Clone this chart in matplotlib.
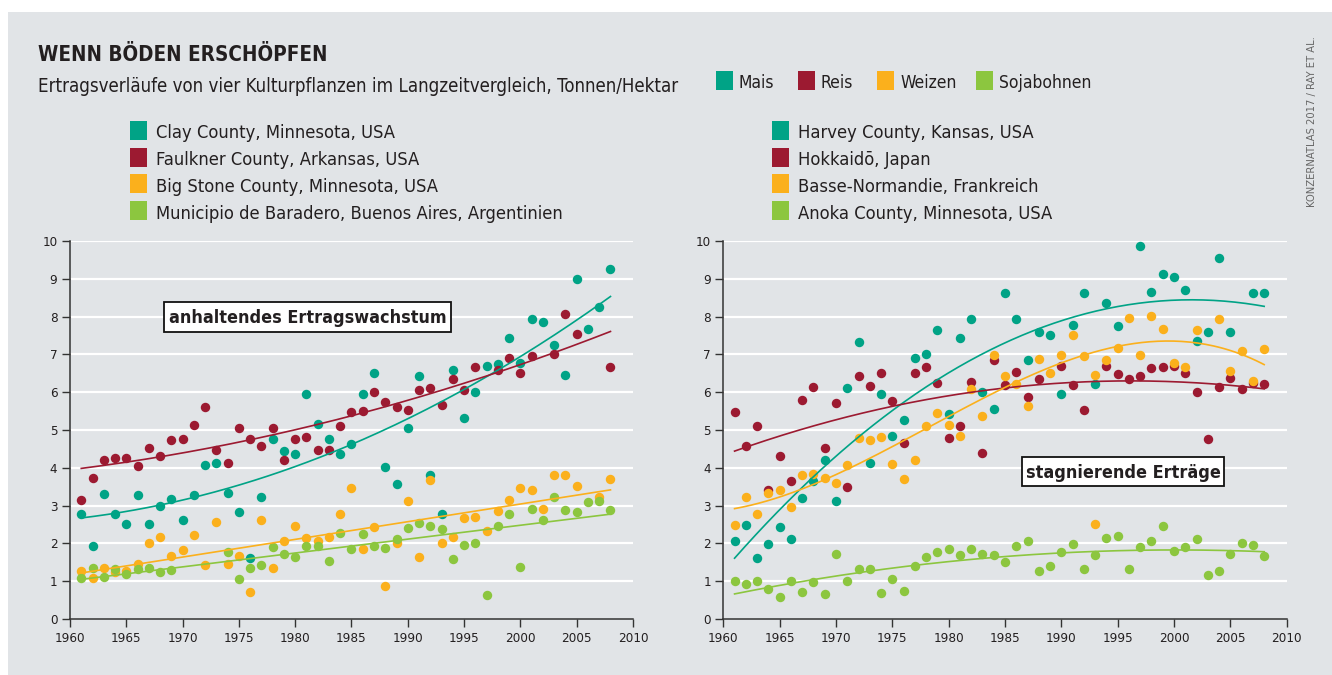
import numpy as np
import matplotlib.pyplot as plt
from matplotlib import font_manager as fm
from matplotlib.patches import Rectangle

# schmale Schrift, falls vorhanden
namen = {f.name for f in fm.fontManager.ttflist}
schmal = [f for f in fm.fontManager.ttflist
          if f.name == 'DejaVu Sans' and 'ondensed' in f.fname]
if 'Liberation Sans Narrow' in namen:
    plt.rcParams['font.family'] = ['Liberation Sans Narrow', 'DejaVu Sans']
    SK = 1.0
elif schmal:
    plt.rcParams['font.family'] = ['DejaVu Sans']
    plt.rcParams['font.stretch'] = 'condensed'
    SK = 0.92
else:
    plt.rcParams['font.family'] = ['Roboto', 'DejaVu Sans']
    SK = 0.86

W, H = 1332, 675
nan = np.nan

years = np.arange(1961, 2009)

# linke Grafik: anhaltendes Ertragswachstum
l_mais = [2.77, 1.94, 3.31, 2.77, 2.52, 3.27, 2.52, 2.99, 3.18, 2.61,
          3.27, 4.07, 4.12, 3.33, 2.83, 1.62, 3.23, 4.75, 4.44, 4.37,
          5.95, 5.17, 4.75, 4.37, 4.62, 5.94, 6.51, 4.03, 3.57, 5.06,
          6.43, 3.81, 2.77, 6.58, 5.33, 6.01, 6.70, 6.75, 7.43, 6.76,
          7.94, 7.85, 7.26, 6.46, 9.00, 7.67, 8.25, 9.25]
l_reis = [3.16, 3.73, 4.21, 4.25, 4.25, 4.05, 4.53, 4.31, 4.73, 4.75,
          5.12, 5.61, 4.48, 4.12, 5.05, 4.75, 4.57, 5.05, 4.21, 4.77,
          4.81, 4.46, 4.46, 5.11, 5.48, 5.50, 6.01, 5.74, 5.62, 5.52,
          6.07, 6.11, 5.67, 6.35, 6.05, 6.66, nan, 6.60, 6.90, 6.50,
          6.96, nan, 7.02, 8.06, 7.54, nan, nan, 6.66]
l_weizen = [1.27, 1.09, 1.36, 1.25, 1.28, 1.45, 2.00, 2.16, 1.67, 1.83,
            2.23, 1.42, 2.56, 1.46, 1.67, 0.72, 2.62, 1.35, 2.06, 2.45,
            2.13, 2.06, 2.18, 2.79, 3.47, 1.84, 2.43, 0.87, 2.00, 3.13,
            1.64, 3.67, 2.02, 2.16, 2.67, 2.70, 2.34, 2.87, 3.14, 3.47,
            3.41, 2.92, 3.82, 3.82, 3.51, nan, 3.23, 3.70]
l_soja = [1.09, 1.36, 1.12, 1.33, 1.18, 1.33, 1.36, 1.25, 1.30, nan,
          nan, nan, nan, 1.77, 1.06, 1.34, 1.44, 1.90, 1.73, 1.63,
          1.92, 1.92, 1.53, 2.27, 1.84, 2.24, 1.94, 1.87, 2.12, 2.42,
          2.55, 2.46, 2.38, 1.58, 1.97, 2.01, 0.63, 2.46, 2.77, 1.37,
          2.91, 2.62, 3.22, 2.88, 2.82, 3.10, 3.13, 2.88]

# rechte Grafik: stagnierende Erträge
r_mais = [2.06, 2.48, 1.61, 1.98, 2.43, 2.12, 3.21, 3.66, 4.21, 3.12,
          6.11, 7.33, 4.12, 5.95, 4.84, 5.26, 6.90, 7.00, 7.65, 5.43,
          7.43, 7.94, 6.01, 5.56, 8.62, 7.94, 6.85, 7.60, 7.50, 5.95,
          7.79, 8.62, 6.21, 8.35, 7.75, nan, 9.88, 8.65, 9.14, 9.04,
          8.70, 7.35, 7.60, 9.56, 7.60, nan, 8.62, 8.62]
r_reis = [5.47, 4.57, 5.10, 3.42, 4.31, 3.65, 5.80, 6.13, 4.52, 5.71,
          3.50, 6.44, 6.17, 6.50, 5.76, 4.66, 6.51, 6.66, 6.24, 4.78,
          5.11, 6.27, 4.39, 6.85, 6.18, 6.53, 5.87, 6.36, nan, 6.69,
          6.20, 5.52, nan, 6.70, 6.47, 6.36, 6.44, 6.65, 6.66, 6.69,
          6.52, 6.01, 4.77, 6.15, 6.37, 6.08, 6.25, 6.21]
r_weizen = [2.48, 3.22, 2.78, 3.33, 3.42, 2.97, 3.80, 3.84, 3.74, 3.59,
            4.07, 4.80, 4.74, 4.81, 4.09, 3.70, 4.21, 5.10, 5.46, 5.13,
            4.85, 6.08, 5.36, 6.99, 6.42, 6.22, 5.64, 6.89, 6.52, 6.98,
            7.50, 6.96, 6.45, 6.85, 7.16, 7.95, 6.98, 8.02, 7.67, 6.76,
            6.67, 7.65, nan, 7.93, 6.55, 7.08, 6.30, 7.13]
r_weizen_extra_jahr = [1993]
r_weizen_extra = [2.51]
r_soja = [1.00, 0.93, 1.00, 0.79, 0.58, 1.00, 0.72, 0.98, 0.67, 1.73,
          1.00, 1.32, 1.33, 0.69, 1.05, 0.73, 1.41, 1.64, 1.77, 1.85,
          1.68, 1.85, 1.72, 1.68, 1.52, 1.93, 2.06, 1.27, 1.40, 1.77,
          1.98, 1.32, 1.68, 2.13, 2.20, 1.33, 1.90, 2.06, 2.47, 1.81,
          1.91, 2.12, 1.17, 1.26, 1.73, 2.00, 1.96, 1.67]

kulturen = ['Mais', 'Reis', 'Weizen', 'Sojabohnen']
farben = ['#00a386', '#9c1a31', '#fbb01c', '#8cc63f']
orte_links = ['Clay County, Minnesota, USA', 'Faulkner County, Arkansas, USA',
              'Big Stone County, Minnesota, USA',
              'Municipio de Baradero, Buenos Aires, Argentinien']
orte_rechts = ['Harvey County, Kansas, USA', 'Hokkaidō, Japan',
               'Basse-Normandie, Frankreich', 'Anoka County, Minnesota, USA']

BG = '#e1e4e7'
TXT = '#231f20'


def fx(x):
    return x / W


def fy(y):
    return 1 - y / H


fig = plt.figure(figsize=(W / 100, H / 100), dpi=100, facecolor='white')
fig.patches.append(Rectangle((fx(8), 0), 1, fy(12), transform=fig.transFigure,
                             facecolor=BG, edgecolor='none', zorder=-5))


def panel(x0, x1, serien, grade, extra=None):
    ax = fig.add_axes([fx(x0), fy(619), fx(x1) - fx(x0), (619 - 241) / H])
    ax.patch.set_visible(False)
    ax.set_xlim(1960, 2010)
    ax.set_ylim(0, 10)
    for v in range(1, 11):
        ax.axhline(v, color='white', lw=1.6, zorder=1)
    for werte, farbe, grad in zip(serien, farben, grade):
        werte = np.array(werte, dtype=float)
        ok = ~np.isnan(werte)
        ax.plot(years[ok], werte[ok], 'o', ms=6.8, mec='none', color=farbe, zorder=3)
        # Trendkurve
        koeff = np.polyfit(years[ok], werte[ok], grad)
        xs = np.linspace(1961, 2008, 200)
        ax.plot(xs, np.polyval(koeff, xs), color=farbe, lw=1.2, zorder=4)
    if extra is not None:
        ej, ew, farbe = extra
        ax.plot(ej, ew, 'o', ms=6.8, mec='none', color=farbe, zorder=3)
    for s in ['top', 'right']:
        ax.spines[s].set_visible(False)
    for s in ['left', 'bottom']:
        ax.spines[s].set_color('#333333')
        ax.spines[s].set_linewidth(1.1)
    ax.set_xticks(range(1960, 2011, 5))
    ax.set_yticks(range(0, 11))
    ax.tick_params(direction='out', length=6, width=1, color='#333333',
                   labelsize=10.5 * SK, labelcolor=TXT, pad=3)
    return ax


ax1 = panel(70, 633, [l_mais, l_reis, l_weizen, l_soja], [2, 2, 1, 1])
ax2 = panel(723.3, 1286.7, [r_mais, r_reis, r_weizen, r_soja], [2, 2, 3, 2],
            extra=(r_weizen_extra_jahr, r_weizen_extra, farben[2]))

# Überschrift
fig.text(fx(38), fy(61), 'WENN BÖDEN ERSCHÖPFEN', fontsize=16.1 * SK, fontweight='bold',
         color=TXT, va='baseline', ha='left')
fig.text(fx(38), fy(91.5), 'Ertragsverläufe von vier Kulturpflanzen im Langzeitvergleich, Tonnen/Hektar',
         fontsize=14.6 * SK, color=TXT, va='baseline', ha='left')


def kaestchen(x, y, farbe):
    fig.patches.append(Rectangle((fx(x), fy(y + 19)), 17 / W, 19 / H,
                                 transform=fig.transFigure, facecolor=farbe,
                                 edgecolor='none', zorder=2))


# Legende der Kulturen
for xq, name, farbe in zip([716, 798, 877, 976], kulturen, farben):
    kaestchen(xq, 71, farbe)
    fig.text(fx(xq + 23), fy(88.5), name, fontsize=13.6 * SK, color=TXT,
             va='baseline', ha='left')

# Standorte
for xq, orte in [(130, orte_links), (772, orte_rechts)]:
    for i, (ort, farbe) in enumerate(zip(orte, farben)):
        y0 = 121 + i * 26.7
        kaestchen(xq, y0, farbe)
        fig.text(fx(xq + 26), fy(y0 + 17.5), ort, fontsize=14.3 * SK, color=TXT,
                 va='baseline', ha='left')


def etikett(x0, y0, x1, y1, text):
    fig.patches.append(Rectangle((fx(x0), fy(y1)), (x1 - x0) / W, (y1 - y0) / H,
                                 transform=fig.transFigure, facecolor='white',
                                 edgecolor='#111111', lw=1.3, zorder=5))
    fig.text(fx((x0 + x1) / 2), fy((y0 + y1) / 2 + 1), text, fontsize=14 * SK,
             fontweight='bold', color=TXT, ha='center', va='center', zorder=6)


etikett(164, 302, 451, 332, 'anhaltendes Ertragswachstum')
etikett(1022, 457, 1224, 486, 'stagnierende Erträge')

# Quelle
fig.text(fx(1312), fy(207), 'KONZERNATLAS 2017 / RAY ET AL.', rotation=90,
         fontsize=8.7 * SK, color='#666666', ha='center', va='bottom')

fig.savefig('out.png', dpi=100, facecolor=fig.get_facecolor())
